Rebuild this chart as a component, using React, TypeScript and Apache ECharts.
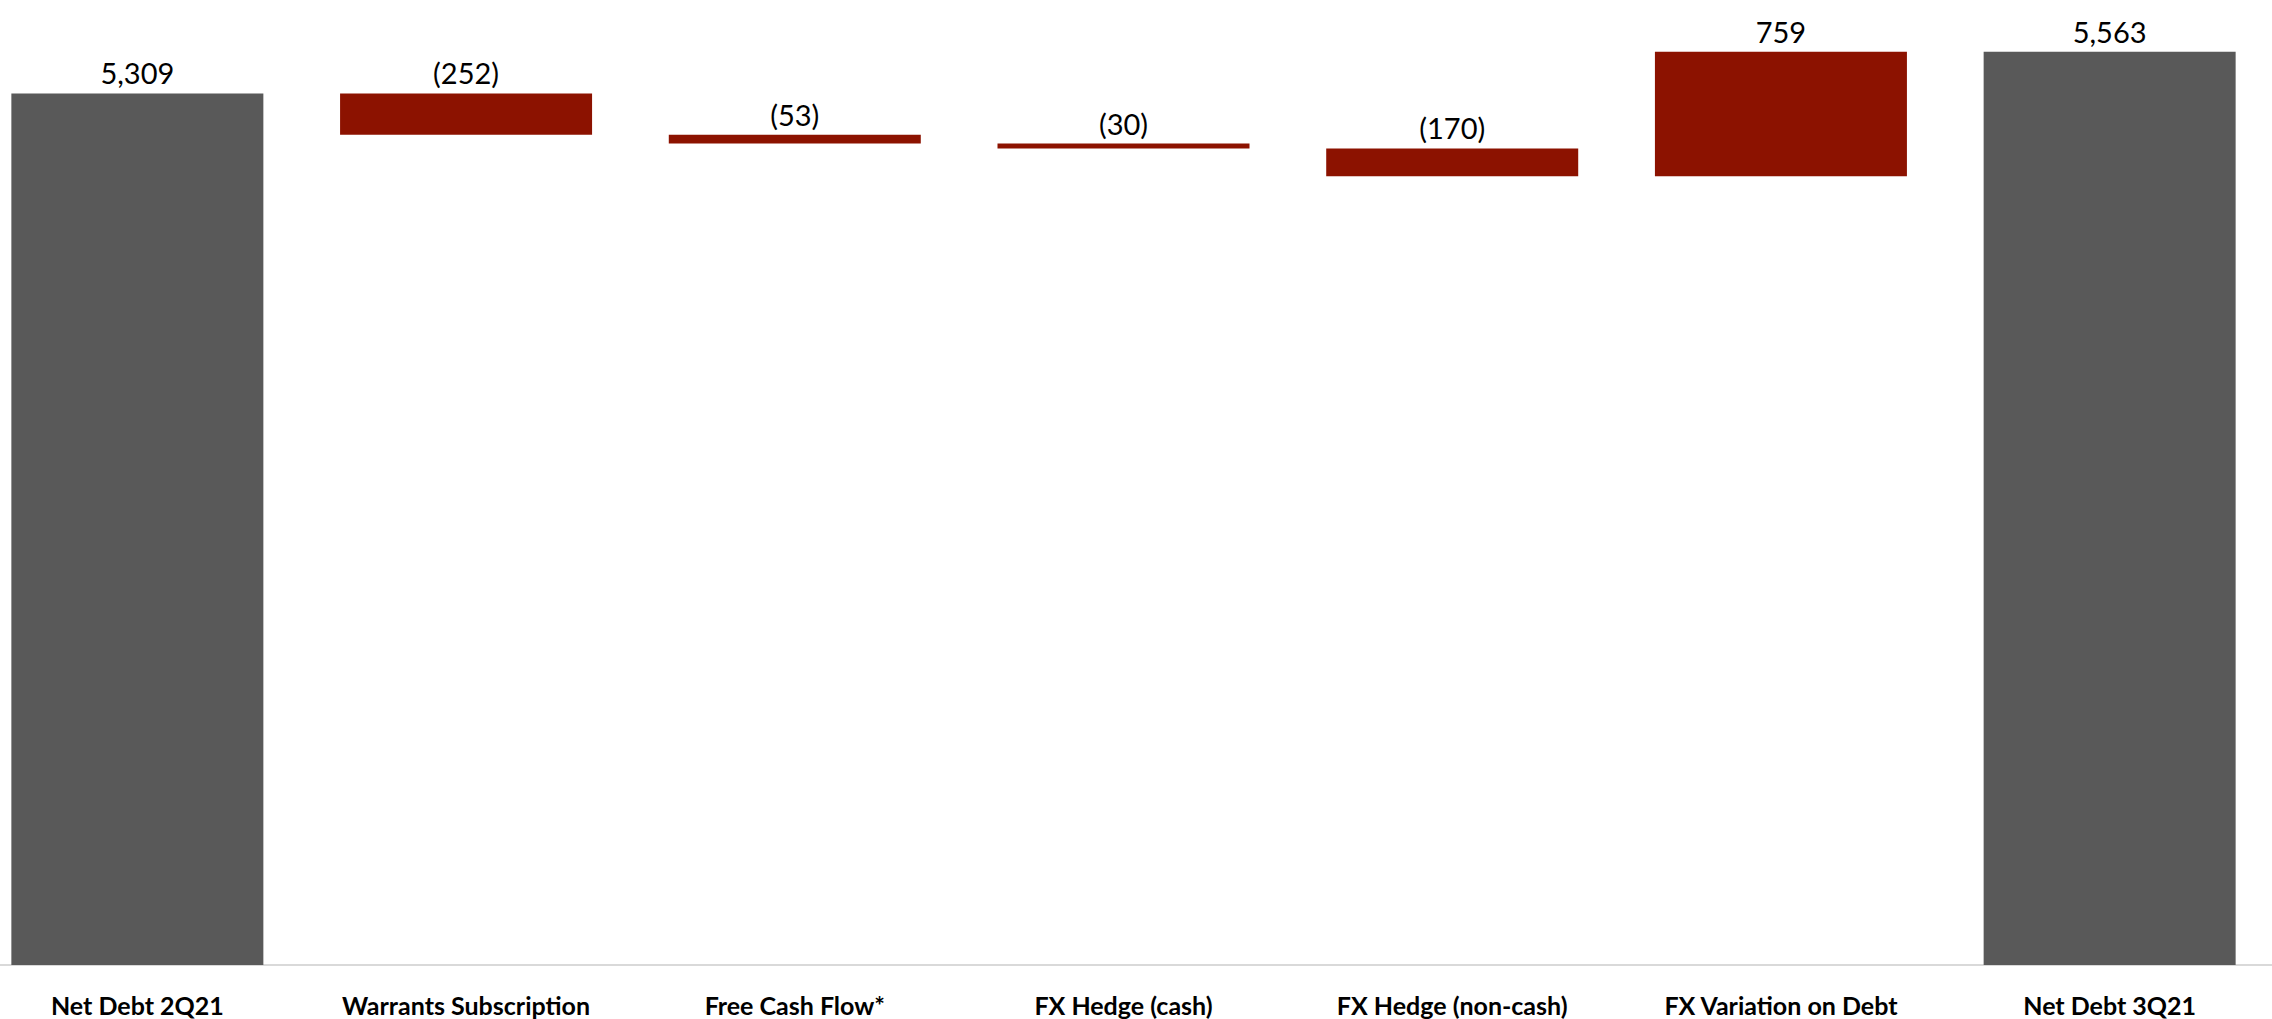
import React, { useEffect, useRef } from "react";
import * as echarts from "echarts";

const categories = [
  "Net Debt 2Q21",
  "Warrants Subscription",
  "Free Cash Flow*",
  "FX Hedge (cash)",
  "FX Hedge (non-cash)",
  "FX Variation on Debt",
  "Net Debt 3Q21",
];
const startTotal = 5309;
const deltas = [-252, -53, -30, -170, 759];
const endTotal = 5563;

const GRAY = "#595959";
const RED = "#8C1200";

function fmt(v: number): string {
  const s = Math.abs(v).toLocaleString("en-US");
  return v < 0 ? `(${s})` : s;
}

export default function App() {
  const ref = useRef<HTMLDivElement>(null);
  useEffect(() => {
    if (!ref.current) return;
    const chart = echarts.init(ref.current, undefined, { renderer: "svg" });

    const base: number[] = [0];
    const vis: any[] = [
      { value: startTotal, itemStyle: { color: GRAY }, labelText: fmt(startTotal) },
    ];
    let running = startTotal;
    deltas.forEach((d) => {
      const next = running + d;
      base.push(Math.min(running, next));
      vis.push({ value: Math.abs(d), itemStyle: { color: RED }, labelText: fmt(d) });
      running = next;
    });
    base.push(0);
    vis.push({ value: endTotal, itemStyle: { color: GRAY }, labelText: fmt(endTotal) });

    chart.setOption({
      animation: false,
      backgroundColor: "#ffffff",
      grid: { left: 0, right: 0, top: 0, bottom: 54, containLabel: false },
      xAxis: {
        type: "category",
        data: categories,
        axisLine: { show: true, lineStyle: { color: "#d9d9d9", width: 2 } },
        axisTick: { show: false },
        axisLabel: {
          interval: 0,
          margin: 27,
          color: "#000000",
          fontFamily: "Lato",
          fontWeight: "bold",
          fontSize: 25,
        },
      },
      yAxis: {
        type: "value",
        min: 0,
        max: 6000,
        show: false,
        splitLine: { show: false },
      },
      series: [
        {
          type: "bar",
          stack: "wf",
          data: base,
          itemStyle: { color: "transparent" },
          barWidth: 252,
          silent: true,
        },
        {
          type: "bar",
          stack: "wf",
          barWidth: 252,
          data: vis.map((v) => ({ value: v.value, itemStyle: v.itemStyle })),
          label: {
            show: true,
            position: "top",
            distance: 6,
            color: "#000000",
            fontFamily: "Lato",
            fontSize: 29,
            formatter: (p: any) => vis[p.dataIndex].labelText,
          },
        },
      ],
    });
    return () => chart.dispose();
  }, []);
  return (
    <div
      ref={ref}
      style={{ position: "fixed", left: -27, top: -20, width: 2301, height: 1039 }}
    />
  );
}
